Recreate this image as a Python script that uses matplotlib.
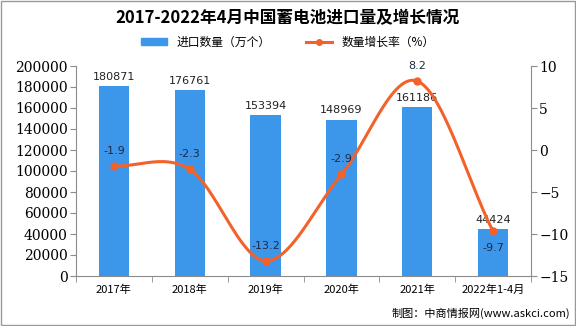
import matplotlib.pyplot as plt
import numpy as np
from matplotlib.lines import Line2D
from matplotlib.patches import Patch

plt.rcParams['font.family'] = ['Noto Sans CJK SC', 'DejaVu Sans']

years = ["2017年", "2018年", "2019年", "2020年", "2021年", "2022年1-4月"]
imports = [180871, 176761, 153394, 148969, 161186, 44424]
growth = [-1.9, -2.3, -13.2, -2.9, 8.2, -9.7]

BAR_COLOR = "#3c96ea"
LINE_COLOR = "#f2622a"
AXIS_COLOR = "#8c8c8c"


def smooth(xs, ys, n=30):
    """Catmull-Rom curve through the points, for a smoothed line look."""
    xs = np.asarray(xs, float)
    ys = np.asarray(ys, float)
    px = np.concatenate([[2 * xs[0] - xs[1]], xs, [2 * xs[-1] - xs[-2]]])
    py = np.concatenate([[2 * ys[0] - ys[1]], ys, [2 * ys[-1] - ys[-2]]])
    out_x, out_y = [], []
    for i in range(1, len(px) - 2):
        t = np.linspace(0, 1, n)
        for p, out in ((px, out_x), (py, out_y)):
            p0, p1, p2, p3 = p[i - 1], p[i], p[i + 1], p[i + 2]
            out.extend(0.5 * (2 * p1 + (-p0 + p2) * t
                              + (2 * p0 - 5 * p1 + 4 * p2 - p3) * t ** 2
                              + (-p0 + 3 * p1 - 3 * p2 + p3) * t ** 3))
    return np.array(out_x), np.array(out_y)


fig = plt.figure(figsize=(5.76, 3.26), dpi=100)
ax = fig.add_axes([76 / 576, 1 - 276 / 326, 455 / 576, 210 / 326])
x = np.arange(len(years))

ax.bar(x, imports, width=0.4, color=BAR_COLOR, zorder=2)
for xi, v in zip(x, imports):
    ax.text(xi, v + 4000, str(v), ha="center", va="bottom", fontsize=8,
            family=["DejaVu Sans"], color="#222222")

ax.set_xlim(-0.5, len(years) - 0.5)
ax.set_ylim(0, 200000)
ax.set_yticks(np.arange(0, 200001, 20000))
ax.set_xticks(x)
ax.set_xticklabels(years, fontsize=8)
ax.set_xticks(np.arange(-0.5, len(years), 1), minor=True)
ax.tick_params(axis="x", which="major", length=0, pad=6)
ax.tick_params(axis="x", which="minor", length=4, color=AXIS_COLOR)
ax.tick_params(axis="y", labelsize=10, length=4, color=AXIS_COLOR, pad=2)
for lab in ax.get_yticklabels():
    lab.set_family(["DejaVu Serif"])
for s in ["top", "right"]:
    ax.spines[s].set_visible(False)
for s in ["left", "bottom"]:
    ax.spines[s].set_color(AXIS_COLOR)

ax2 = ax.twinx()
ax2.set_ylim(-15, 10)
ax2.set_yticks(np.arange(-15, 11, 5))
ax2.tick_params(axis="y", labelsize=10, length=4, color=AXIS_COLOR, pad=2)
for lab in ax2.get_yticklabels():
    lab.set_family(["DejaVu Serif"])
for s in ["top", "left", "bottom"]:
    ax2.spines[s].set_visible(False)
ax2.spines["right"].set_color(AXIS_COLOR)

sx, sy = smooth(x, growth)
ax2.plot(sx, sy, color=LINE_COLOR, lw=2.2, zorder=3)
ax2.plot(x, growth, "o", color=LINE_COLOR, ms=5, zorder=4)
offsets = [1.2, 1.2, 1.2, 1.2, 1.2, -1.4]
for xi, g, off in zip(x, growth, offsets):
    ax2.text(xi, g + off, f"{g}", ha="center",
             va="bottom" if off > 0 else "top", fontsize=8,
             family=["DejaVu Sans"], color="#1f2a44")

fig.text(0.5, 1 - 18 / 326, "2017-2022年4月中国蓄电池进口量及增长情况",
         ha="center", va="center", fontsize=12, fontweight="bold")
handles = [Patch(color=BAR_COLOR),
           Line2D([], [], color=LINE_COLOR, lw=2.2, marker="o", ms=4)]
fig.legend(handles, ["进口数量（万个）", "数量增长率（%）"], loc="center",
           bbox_to_anchor=(0.5, 1 - 42 / 326), ncol=2, frameon=False,
           fontsize=8.5, handlelength=2.2, handleheight=0.5, columnspacing=3)
fig.text(1 - 6 / 576, 1 - 313 / 326, "制图：中商情报网(www.askci.com)",
         ha="right", va="center", fontsize=8)

fig.add_artist(plt.Rectangle((0.001, 0.002), 0.997, 0.996, transform=fig.transFigure,
                             fill=False, edgecolor="#999999", lw=1))

fig.savefig("out.png", dpi=100)
